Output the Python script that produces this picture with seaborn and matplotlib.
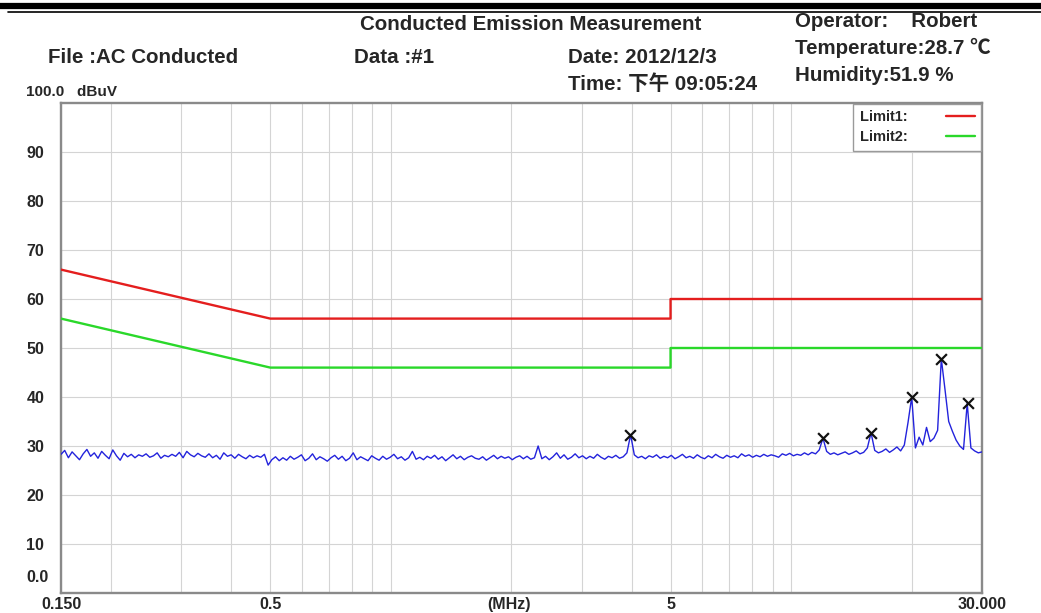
import numpy as np
import pandas as pd
import matplotlib
matplotlib.use("Agg")
import matplotlib.pyplot as plt
from matplotlib.lines import Line2D
import seaborn as sns

# ---------------- data ----------------
f_start_mhz = 0.15
f_stop_mhz = 30.0

trace_dbuv = [
    28.3, 29.1, 27.6, 28.8, 28.0, 27.2, 28.4, 29.3, 27.9, 28.6,
    27.5, 28.9, 28.1, 27.4, 29.2, 28.0, 27.1, 28.5, 27.8, 28.3,
    27.6, 28.2, 27.9, 28.4, 27.7, 28.0, 28.6, 27.5, 28.1, 27.8,
    28.3, 27.9, 28.7, 27.6, 28.9, 28.2, 27.8, 28.5, 28.0, 27.7,
    28.4, 27.6, 28.1, 27.3, 28.6, 27.9, 28.2, 27.5, 28.3, 27.8,
    27.4, 28.1, 27.6, 28.0, 27.7, 28.3, 26.1, 27.2, 27.8, 27.0,
    27.6, 27.1, 27.9, 27.3, 27.7, 28.2, 27.0, 27.5, 28.4, 27.2,
    27.8, 27.4, 26.9, 27.6, 28.1, 27.3, 27.9, 27.0, 27.5, 28.6,
    27.2, 27.8, 27.4, 27.0, 28.0, 27.5, 27.1, 27.9, 27.3, 27.7,
    28.3, 27.4, 27.8, 27.1, 27.6, 28.9, 27.3, 27.7, 27.2, 27.9,
    27.5, 28.1, 27.3, 27.8, 27.0, 27.6, 28.2, 27.4, 27.9, 27.2,
    27.7, 28.0, 27.5, 27.3, 27.8, 27.1, 27.6, 28.1, 27.4, 27.9,
    27.5, 27.8, 27.2, 27.7, 28.0, 27.4, 27.9, 27.3, 27.6, 30.0,
    27.4, 27.9, 27.2, 27.8, 28.6, 27.5, 28.2, 27.3, 27.7, 28.4,
    27.6, 28.0, 27.4, 27.9, 27.5, 28.3, 27.7, 27.3, 27.9, 27.6,
    28.1, 27.5, 27.8, 28.6, 32.3, 28.2, 27.6, 27.9, 27.4, 28.0,
    27.7, 28.2, 27.5, 27.9, 27.6, 28.1, 27.4, 27.8, 28.3, 27.6,
    27.9, 27.5, 28.2, 27.7, 27.4, 28.0, 27.6, 28.3, 27.8, 27.5,
    28.1, 27.7, 28.0, 27.6, 28.4, 27.9, 28.2, 27.7, 28.1, 27.8,
    28.3, 27.9, 28.2, 28.0, 27.7, 28.4, 28.1, 28.5, 28.0, 28.3,
    28.1, 28.6, 28.2, 28.7, 28.4, 29.2, 31.6, 28.9, 28.3, 28.6,
    28.2, 28.5, 28.8, 28.3, 28.6, 29.0, 28.4, 28.7, 29.6, 32.7,
    29.1, 28.6, 28.9, 29.4, 28.7, 29.2, 29.8, 29.0, 30.2, 34.8,
    40.0, 29.6, 31.8, 30.2, 33.8, 30.9, 31.6, 33.2, 47.8, 41.5,
    35.0, 33.0, 31.2, 30.0, 29.3, 38.7, 29.6, 29.0, 28.6, 28.8,
]
trace_mhz = np.geomspace(f_start_mhz, f_stop_mhz, len(trace_dbuv))

peak_mhz = [3.97, 12.0, 15.8, 20.0, 23.7, 27.6]
peak_dbuv = [32.3, 31.6, 32.7, 40.0, 47.8, 38.7]

limit_mhz = [0.15, 0.5, 5.0, 5.0, 30.0]
limit1_dbuv = [66, 56, 56, 60, 60]
limit2_dbuv = [56, 46, 46, 50, 50]

x_tick_vals = [0.15, 0.5, 5, 30]
x_tick_labels = ["0.150", "0.5", "5", "30.000"]
x_grid_vals = [0.2, 0.3, 0.4, 0.5, 0.6, 0.7, 0.8, 0.9, 1, 2, 3, 4, 5, 6, 7, 8, 9, 10, 20]
y_tick_vals = [10, 20, 30, 40, 50, 60, 70, 80, 90]

# ---------------- style ----------------
sns.set_style("white")
FONT = ["Liberation Sans", "DejaVu Sans"]
FONT_CJK = ["Liberation Sans", "Noto Sans CJK SC", "DejaVu Sans"]
plt.rcParams["font.family"] = FONT
plt.rcParams["font.weight"] = "bold"

W, H = 1041, 613
fig = plt.figure(figsize=(W / 100, H / 100), dpi=100)
L, R, T, B = 61, 982, 103, 593
ax = fig.add_axes([L / W, 1 - B / H, (R - L) / W, (B - T) / H])
ax.set_xscale("log")

trace_df = pd.DataFrame({"MHz": trace_mhz, "dBuV": trace_dbuv})
lim_df = pd.DataFrame({"MHz": limit_mhz, "Limit1": limit1_dbuv, "Limit2": limit2_dbuv})
peak_df = pd.DataFrame({"MHz": peak_mhz, "dBuV": peak_dbuv})

sns.lineplot(data=trace_df, x="MHz", y="dBuV", ax=ax, color="#2323dc",
             linewidth=1.0, estimator=None, sort=False, zorder=3)
sns.lineplot(data=lim_df, x="MHz", y="Limit1", ax=ax, color="#e41e1e",
             linewidth=1.7, estimator=None, sort=False, label="Limit1:", zorder=4)
sns.lineplot(data=lim_df, x="MHz", y="Limit2", ax=ax, color="#2ad82a",
             linewidth=1.7, estimator=None, sort=False, label="Limit2:", zorder=4)
sns.scatterplot(data=peak_df, x="MHz", y="dBuV", ax=ax, marker="x", color="#111111",
                s=60, linewidth=1.6, zorder=5)

ax.set_xlim(f_start_mhz, f_stop_mhz)
ax.set_ylim(0, 100)

ax.set_xticks(x_tick_vals)
ax.set_xticklabels(x_tick_labels)
ax.set_xticks(x_grid_vals, minor=True)
ax.xaxis.set_minor_formatter(matplotlib.ticker.NullFormatter())
ax.set_yticks(y_tick_vals)
ax.set_yticklabels([str(v) for v in y_tick_vals])

ax.grid(True, which="both", axis="x", color="#d4d4d4", linewidth=0.8)
ax.grid(True, which="major", axis="y", color="#d4d4d4", linewidth=0.8)
ax.set_axisbelow(True)
ax.tick_params(axis="both", which="both", length=0)
ax.tick_params(axis="x", pad=3, labelsize=11.5)
ax.tick_params(axis="y", pad=25, labelsize=11.5)
for lab in ax.get_yticklabels():
    lab.set_horizontalalignment("left")
for lab in ax.get_xticklabels() + ax.get_yticklabels():
    lab.set_fontweight("bold")

ax.set_xlabel("")
ax.set_ylabel("")
for sp in ax.spines.values():
    sp.set_color("#8a8a8a")
    sp.set_linewidth(1.7)

leg = ax.legend(loc="upper right", markerfirst=False, frameon=True, fancybox=False,
                borderaxespad=0.05, handlelength=2.0, handletextpad=2.6,
                borderpad=0.45, labelspacing=0.4, prop={"weight": "bold", "size": 10.5})
leg.get_frame().set_edgecolor("#9a9a9a")
leg.get_frame().set_linewidth(1.0)
leg.get_frame().set_alpha(1.0)

# axis annotations
ax.text(-35 / (R - L), 1 + 11 / (B - T), "100.0   dBuV", transform=ax.transAxes,
        ha="left", va="center", fontsize=11, fontweight="bold")
ax.text(-35 / (R - L), 15 / (B - T), "0.0", transform=ax.transAxes,
        ha="left", va="center", fontsize=11.5, fontweight="bold")
ax.text((509 - L) / (R - L), -(4 / (B - T)), "(MHz)", transform=ax.transAxes,
        ha="center", va="top", fontsize=11.5, fontweight="bold")

# header texts (y = baseline in pixels)
def ftext(x, y, s, size=14.8, family=FONT, ha="left"):
    fig.text(x / W, 1 - y / H, s, ha=ha, va="baseline", fontsize=size,
             fontweight="bold", family=family)

ftext(531, 30, "Conducted Emission Measurement", ha="center")
ftext(48, 63, "File :AC Conducted")
ftext(354, 63, "Data :#1")
ftext(568, 63, "Date: 2012/12/3")
ftext(568, 90, "Time: 下午 09:05:24", family=FONT_CJK)
ftext(795, 27, "Operator:    Robert")
ftext(795, 54, "Temperature:28.7 ℃", family=FONT_CJK)
ftext(795, 81, "Humidity:51.9 %")

# top double rule
fig.add_artist(Line2D([0, 1], [1 - 5.5 / H, 1 - 5.5 / H], transform=fig.transFigure,
                      color="black", linewidth=4.5))
fig.add_artist(Line2D([8 / W, 1], [1 - 11.5 / H, 1 - 11.5 / H], transform=fig.transFigure,
                      color="black", linewidth=1.2))

fig.savefig("out.png", dpi=100)
